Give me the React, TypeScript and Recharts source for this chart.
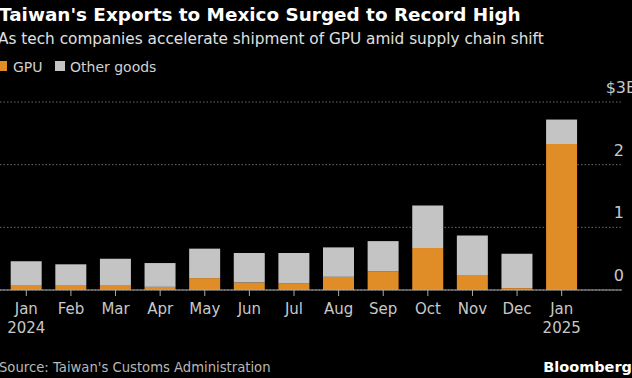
import { BarChart, Bar, XAxis, YAxis, CartesianGrid } from 'recharts';

const months = ['Jan', 'Feb', 'Mar', 'Apr', 'May', 'Jun', 'Jul', 'Aug', 'Sep', 'Oct', 'Nov', 'Dec', 'Jan'];
const years = ['2024', '', '', '', '', '', '', '', '', '', '', '', '2025'];
const gpu = [0.08, 0.08, 0.08, 0.05, 0.19, 0.12, 0.11, 0.21, 0.3, 0.67, 0.24, 0.03, 2.33];
const other = [0.38, 0.33, 0.42, 0.38, 0.47, 0.47, 0.48, 0.47, 0.48, 0.68, 0.63, 0.55, 0.39];
const yTicks = [0, 1, 2, 3];

const data = months.map((m, i) => ({ key: `${m} ${years[i] || i}`, month: m, year: years[i], gpu: gpu[i], other: other[i] }));

const ORANGE = '#e08d28';
const GRAY = '#c4c4c4';
const FONT = '"DejaVu Sans", sans-serif';

function MonthTick(props: any) {
  const { x, y, index } = props;
  return (
    <text x={x} y={y} textAnchor="middle" fill="#c8c8c8" fontSize={15} fontFamily={FONT}>
      <tspan x={x} dy={16}>{months[index]}</tspan>
      {years[index] && <tspan x={x} dy={19}>{years[index]}</tspan>}
    </text>
  );
}

function ValueTick(props: any) {
  const { y, payload } = props;
  const label = payload.value === 3 ? '$3B' : String(payload.value);
  return (
    <text x={payload.value === 3 ? 637 : 624} y={y - 9} textAnchor="end" fill="#c8c8c8" fontSize={16} fontFamily={FONT}>
      {label}
    </text>
  );
}

export default function App() {
  return (
    <div style={{ position: 'absolute', left: 0, top: 0, width: 632, height: 378, background: '#000', overflow: 'hidden', fontFamily: FONT }}>
      <svg width={632} height={378} style={{ position: 'absolute', left: 0, top: 0 }}>
        <text x={-1} y={21} fill="#fff" fontSize={18.4} fontWeight="bold" fontFamily={FONT}>
          Taiwan's Exports to Mexico Surged to Record High
        </text>
        <text x={-2} y={44} fill="#e0e0e0" fontSize={15.3} fontFamily={FONT}>
          As tech companies accelerate shipment of GPU amid supply chain shift
        </text>
        <rect x={-3} y={61} width={10} height={10} fill={ORANGE} />
        <text x={13} y={72} fill="#d0d0d0" fontSize={14} fontFamily={FONT}>GPU</text>
        <rect x={55} y={61} width={10} height={10} fill={GRAY} />
        <text x={70} y={72} fill="#d0d0d0" fontSize={14} fontFamily={FONT}>Other goods</text>
        <text x={-1} y={372} fill="#b8b8b8" fontSize={13.2} fontFamily={FONT}>
          Source: Taiwan's Customs Administration
        </text>
        <text x={632} y={372} textAnchor="end" fill="#fff" fontSize={14.5} fontWeight="bold" fontFamily={FONT}>
          Bloomberg
        </text>
      </svg>
      <div style={{ position: 'absolute', left: 0, top: 0 }}>
        <BarChart
          width={632}
          height={378}
          data={data}
          margin={{ top: 102, right: 0, bottom: 38, left: 0 }}
          barCategoryGap="15%"
        >
          <CartesianGrid vertical={false} stroke="#6a6a6a" strokeDasharray="1.5 2" />
          <XAxis
            dataKey="key"
            height={50}
            padding={{ left: 4, right: 38 }}
            axisLine={{ stroke: '#aaa', strokeWidth: 1 }}
            tickLine={{ stroke: '#aaa' }}
            tickSize={6}
            interval={0}
            tick={<MonthTick />}
          />
          <YAxis
            orientation="right"
            width={10}
            domain={[0, 3]}
            ticks={yTicks}
            axisLine={false}
            tickLine={false}
            tick={<ValueTick />}
          />
          <Bar dataKey="gpu" stackId="a" fill={ORANGE} isAnimationActive={false} />
          <Bar dataKey="other" stackId="a" fill={GRAY} isAnimationActive={false} />
        </BarChart>
      </div>
    </div>
  );
}
